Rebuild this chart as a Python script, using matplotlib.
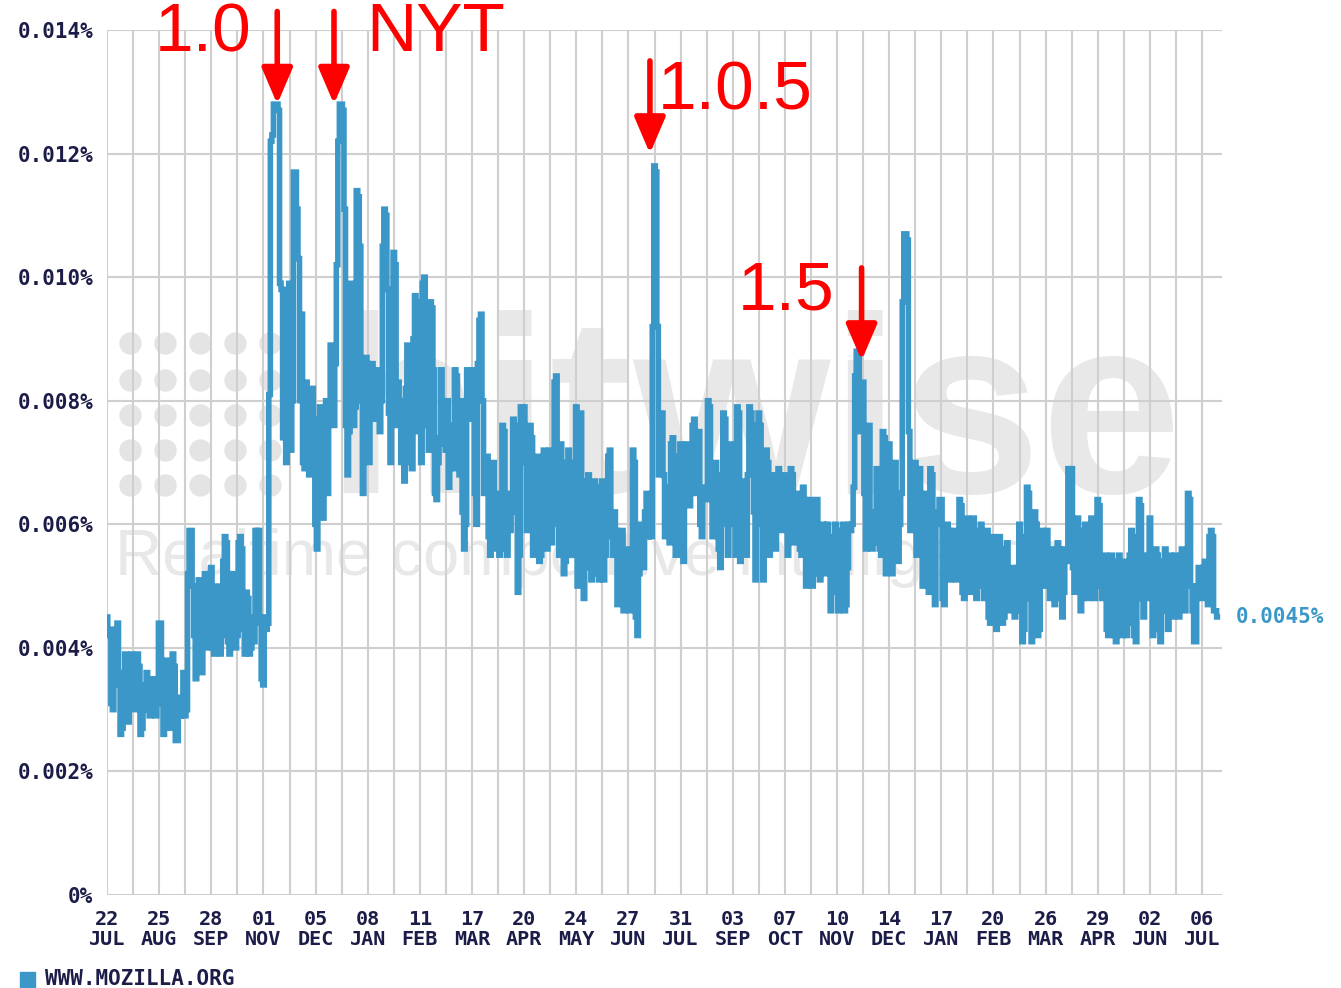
"""
Hitwise-style chart: daily share of visits to www.mozilla.org, Jul 2004 - Jul 2006,
with Firefox release markers.
"""

import numpy as np
import pandas as pd
import matplotlib
matplotlib.use("Agg")
import matplotlib.pyplot as plt
from matplotlib.patches import Rectangle

# daily market share, in units of 0.001 %  (one row = one 17-day grid block)
daily_share = [
    4.5, 4.2, 4.3, 3.1, 3.0, 3.9, 4.3, 4.4, 3.4, 2.6, 2.7, 3.6, 3.9, 3.3, 2.8, 3.5, 3.9,
    3.6, 3.0, 3.4, 3.9, 3.7, 2.6, 2.7, 3.4, 3.3, 3.6, 3.0, 2.9, 3.1, 3.5, 3.4, 2.9, 3.2,
    4.4, 4.4, 3.1, 2.6, 3.3, 3.8, 3.6, 2.7, 3.0, 3.9, 3.7, 2.5, 2.5, 3.2, 2.9, 3.0, 3.6,
    2.9, 3.0, 5.2, 5.9, 5.9, 5.0, 4.2, 3.5, 4.6, 5.1, 4.0, 3.6, 5.0, 5.2, 4.1, 4.0, 5.2,
    5.3, 4.0, 3.9, 4.8, 5.0, 4.6, 3.9, 4.2, 5.4, 5.8, 5.7, 4.1, 3.9, 4.9, 5.2, 5.0, 4.0,
    4.2, 5.7, 5.8, 5.6, 4.3, 3.9, 4.9, 4.8, 3.9, 4.0, 4.5, 4.1, 5.9, 5.8, 5.9, 4.4, 3.5,
    3.4, 4.5, 4.3, 4.4, 8.1, 12.2, 12.3, 12.8, 12.8, 12.8, 12.7, 9.9, 9.8, 7.4, 9.8, 7.0, 9.7,
    9.9, 7.2, 8.0, 11.7, 11.7, 11.1, 10.3, 8.0, 9.4, 7.0, 6.9, 8.3, 7.5, 6.8, 7.4, 8.2, 7.7,
    6.0, 5.6, 6.2, 7.9, 6.4, 6.1, 7.6, 8.0, 6.5, 7.7, 8.9, 7.9, 7.6, 8.6, 10.2, 12.2, 12.8,
    12.8, 12.7, 11.1, 7.6, 6.8, 7.5, 9.9, 9.6, 7.6, 7.9, 11.4, 11.3, 10.5, 8.0, 6.5, 7.2, 8.7,
    8.6, 7.0, 7.8, 8.6, 8.2, 7.7, 8.5, 8.3, 7.5, 8.0, 10.5, 11.1, 11.0, 9.8, 7.8, 7.0, 9.2,
    10.4, 10.2, 7.6, 8.3, 8.0, 7.0, 7.5, 6.7, 8.2, 8.9, 8.6, 7.0, 6.9, 9.0, 9.7, 9.5, 7.5,
    9.6, 7.0, 9.9, 10.0, 9.0, 7.6, 7.2, 9.6, 9.5, 8.5, 6.5, 6.4, 7.0, 7.4, 8.5, 7.3, 7.7,
    7.2, 8.0, 6.6, 7.0, 7.6, 6.9, 8.5, 8.4, 7.2, 6.8, 8.0, 6.2, 5.6, 6.0, 8.5, 8.4, 7.7,
    8.5, 8.4, 6.5, 6.0, 8.6, 9.3, 9.4, 8.0, 6.5, 7.0, 7.1, 5.8, 5.5, 6.2, 7.0, 6.0, 5.6,
    6.5, 5.5, 5.7, 7.6, 7.5, 5.6, 5.5, 6.5, 5.9, 6.2, 7.7, 7.6, 6.2, 4.9, 5.5, 7.9, 7.8,
    7.9, 7.0, 5.9, 6.3, 7.6, 7.4, 5.5, 5.8, 6.5, 7.1, 5.4, 5.5, 7.0, 7.2, 6.0, 5.6, 6.5,
    7.2, 5.7, 6.0, 8.3, 8.4, 6.8, 5.5, 7.3, 7.0, 5.2, 5.4, 6.5, 7.2, 6.0, 5.5, 6.8, 7.0,
    7.9, 5.0, 6.5, 7.8, 5.2, 4.8, 5.6, 6.7, 6.8, 5.3, 5.1, 6.0, 6.7, 6.6, 5.2, 5.1, 6.6,
    6.7, 5.1, 5.5, 6.6, 7.1, 7.2, 5.8, 5.5, 6.2, 5.9, 4.7, 4.9, 5.8, 5.9, 4.6, 4.8, 5.6,
    5.5, 4.6, 5.2, 7.2, 7.0, 4.5, 4.2, 5.2, 6.0, 5.5, 5.3, 6.2, 6.5, 5.8, 6.0, 5.8, 9.2,
    11.8, 11.7, 9.2, 6.8, 7.6, 7.8, 6.8, 5.8, 6.3, 6.6, 5.7, 7.3, 7.4, 6.5, 5.5, 5.9, 7.1,
    7.3, 5.5, 5.4, 6.5, 7.3, 7.2, 6.3, 6.5, 7.6, 7.7, 6.6, 6.5, 7.5, 6.0, 5.8, 6.6, 6.4,
    6.4, 8.0, 7.9, 6.5, 5.8, 6.0, 7.0, 6.8, 5.6, 5.3, 6.0, 7.8, 7.7, 6.2, 5.5, 6.8, 7.3,
    7.3, 6.0, 5.5, 7.9, 7.8, 5.4, 5.6, 6.7, 6.2, 5.5, 6.8, 7.9, 7.8, 7.6, 6.2, 5.1, 6.0,
    7.8, 7.6, 6.5, 5.1, 6.2, 7.2, 7.0, 5.5, 5.8, 6.8, 6.3, 5.6, 6.5, 6.9, 6.5, 5.9, 6.7,
    6.8, 6.0, 5.5, 6.5, 6.9, 6.8, 5.7, 5.8, 6.2, 6.5, 5.6, 5.5, 6.6, 6.4, 5.0, 5.2, 6.4,
    6.4, 5.0, 5.2, 6.0, 6.4, 5.3, 5.1, 5.9, 6.0, 5.2, 5.3, 6.0, 5.8, 4.6, 4.9, 5.7, 6.0,
    5.8, 4.6, 4.7, 5.9, 6.0, 4.6, 4.7, 5.3, 6.0, 5.9, 6.0, 6.6, 8.4, 8.8, 8.7, 7.5, 8.3,
    8.3, 6.5, 5.6, 5.8, 7.6, 6.0, 5.6, 5.7, 6.2, 6.9, 6.8, 5.6, 5.5, 7.5, 7.4, 5.2, 5.8,
    7.3, 6.8, 5.2, 6.5, 7.0, 6.0, 5.4, 6.0, 6.5, 9.6, 10.7, 10.7, 10.6, 7.5, 5.9, 6.3, 7.0,
    7.0, 5.5, 6.6, 6.9, 5.7, 5.0, 6.4, 6.5, 5.0, 4.9, 6.9, 6.8, 5.7, 4.7, 6.0, 6.2, 6.4,
    6.4, 4.8, 4.7, 5.6, 6.0, 5.9, 5.1, 5.3, 5.9, 5.2, 5.1, 5.8, 6.4, 6.3, 4.9, 4.8, 5.5,
    6.1, 5.2, 4.9, 5.5, 6.1, 5.8, 4.8, 5.0, 5.9, 6.0, 5.3, 4.8, 5.7, 5.9, 4.5, 4.4, 5.4,
    5.8, 4.4, 4.3, 5.6, 5.8, 5.2, 4.4, 4.5, 5.6, 5.7, 4.9, 4.6, 5.2, 5.3, 4.5, 4.6, 5.3,
    6.0, 5.5, 4.1, 4.3, 5.8, 6.6, 6.5, 4.8, 4.1, 5.5, 6.2, 6.0, 4.2, 4.3, 5.6, 5.9, 5.0,
    5.8, 5.9, 5.0, 4.8, 5.6, 5.4, 4.7, 5.0, 5.7, 5.6, 4.8, 4.5, 4.9, 5.6, 5.4, 6.9, 6.8,
    6.9, 5.3, 4.9, 5.8, 6.1, 5.6, 4.6, 4.8, 5.9, 6.0, 5.2, 4.8, 5.7, 6.1, 5.0, 4.8, 5.5,
    6.4, 6.3, 5.0, 4.8, 5.4, 5.5, 4.3, 4.2, 5.3, 5.5, 5.0, 4.2, 4.1, 5.4, 5.5, 4.6, 4.2,
    5.2, 5.4, 4.2, 4.4, 5.5, 5.9, 5.8, 4.2, 4.1, 5.0, 6.4, 6.3, 4.8, 4.5, 5.3, 5.5, 4.8,
    6.1, 5.0, 4.2, 4.4, 5.6, 5.5, 4.3, 4.1, 5.0, 5.4, 5.6, 4.6, 4.3, 5.5, 5.4, 4.5, 4.8,
    5.5, 4.6, 4.5, 5.2, 5.6, 5.0, 4.6, 5.1, 6.5, 6.4, 5.0, 4.6, 4.1, 4.1, 5.0, 5.3, 4.9,
    4.8, 5.3, 5.4, 4.9, 4.7, 5.8, 5.9, 5.8, 4.6, 4.6, 4.5,
]
start_date = "2004-07-22"
last_label = "0.0045%"

y_ticks = [0, 2, 4, 6, 8, 10, 12, 14]
y_labels = ["0%", "0.002%", "0.004%", "0.006%", "0.008%", "0.010%", "0.012%", "0.014%"]

x_labels = ["22\nJUL", "25\nAUG", "28\nSEP", "01\nNOV", "05\nDEC", "08\nJAN",
            "11\nFEB", "17\nMAR", "20\nAPR", "24\nMAY", "27\nJUN", "31\nJUL",
            "03\nSEP", "07\nOCT", "10\nNOV", "14\nDEC", "17\nJAN", "20\nFEB",
            "26\nMAR", "29\nAPR", "02\nJUN", "06\nJUL"]

# release markers: (text, date of arrow, arrow tip value, arrow tail value)
events = [
    ("1.0", "2004-11-10", 12.8, 14.3),
    ("NYT", "2004-12-17", 12.8, 14.3),
    ("1.0.5", "2005-07-11", 12.0, 13.5),
    ("1.5", "2005-11-26", 8.65, 10.15),
]
# where each marker's caption sits: (date, value)
event_text_pos = [
    ("2004-08-22", 13.95),
    ("2005-01-07", 13.95),
    ("2005-07-16", 13.0),
    ("2005-09-06", 9.76),
]

line_color = "#3b97c7"
grid_color = "#cfcfcf"
text_color = "#1c1c48"
mark_color = "#3b97c7"

dates = pd.date_range(start_date, periods=len(daily_share), freq="D")
grid_dates = pd.date_range(start_date, periods=43, freq="17D")
label_dates = grid_dates[::2]
x_end = pd.Timestamp(start_date) + pd.Timedelta(days=727)

fig = plt.figure(figsize=(13.41, 9.88), dpi=100)
ax = fig.add_axes([107 / 1341, 1 - 895 / 988, 1115 / 1341, 865 / 988])

# faint watermark
dot_x = [130, 165, 200, 235, 270]
dot_y = [343, 380, 415, 450, 485]
for dy in dot_y:
    ax.scatter([(dx - 107) / 1115 for dx in dot_x], [(895 - dy) / 865] * len(dot_x),
               s=260, color="#e4e4e4", transform=ax.transAxes, zorder=0.1,
               linewidths=0, clip_on=False)
ax.text((325 - 107) / 1115, (895 - 493) / 865, "hitwise", transform=ax.transAxes,
        fontsize=182, family="Liberation Sans", weight="bold", color="#e8e8e8",
        ha="left", va="baseline", zorder=0.1)
ax.text((115 - 107) / 1115, (895 - 575) / 865, "Realtime competitive intelligence",
        transform=ax.transAxes, fontsize=47, family="Liberation Sans",
        color="#e8e8e8", ha="left", va="baseline", zorder=0.1)

ax.plot(dates, daily_share, color=line_color, lw=4, drawstyle="steps-mid",
        solid_joinstyle="miter", zorder=3)

ax.set_xlim(pd.Timestamp(start_date), x_end)
ax.set_ylim(0, 14)

ax.set_xticks(label_dates)
ax.set_xticklabels(x_labels)
ax.set_xticks(grid_dates, minor=True)
ax.set_yticks(y_ticks)
ax.set_yticklabels(y_labels)

ax.set_axisbelow(True)
ax.grid(which="both", axis="x", color=grid_color, lw=1.5)
ax.grid(which="major", axis="y", color=grid_color, lw=1.5)
for s in ax.spines.values():
    s.set_visible(False)

ax.tick_params(which="both", length=0)
ax.tick_params(axis="y", pad=10, labelsize=15, labelcolor=text_color)
ax.tick_params(axis="x", pad=11, labelsize=14.5, labelcolor=text_color)
for lbl in ax.get_yticklabels() + ax.get_xticklabels():
    lbl.set_family("DejaVu Sans Mono")
    lbl.set_weight("bold")
for lbl in ax.get_xticklabels():
    lbl.set_linespacing(1.05)

# last value label on the right
ax.text(1.012, daily_share[-1] / 14, last_label,
        transform=ax.transAxes, ha="left", va="center", fontsize=15,
        family="DejaVu Sans Mono", weight="bold", color=mark_color, clip_on=False)

# release arrows and captions
for (txt, d, tip, tail), (tx, ty) in zip(events, event_text_pos):
    ax.annotate("", xy=(pd.Timestamp(d), tip), xytext=(pd.Timestamp(d), tail),
                arrowprops=dict(arrowstyle="-|>,head_length=1.1,head_width=0.47",
                                color="red", lw=4, shrinkA=0, shrinkB=0,
                                mutation_scale=20),
                annotation_clip=False, zorder=5)
    ax.text(pd.Timestamp(tx), ty, txt, color="red", fontsize=50,
            family="Liberation Sans", ha="left", va="center", zorder=5, clip_on=False)

# legend at the bottom
fig.add_artist(Rectangle((20 / 1341, 0), 15 / 1341, 16 / 988,
                         transform=fig.transFigure, color=mark_color))
fig.text(45 / 1341, 0.009, "WWW.MOZILLA.ORG", fontsize=15, family="DejaVu Sans Mono",
         weight="bold", color=text_color, ha="left", va="center")

fig.savefig("out.png", dpi=100)
